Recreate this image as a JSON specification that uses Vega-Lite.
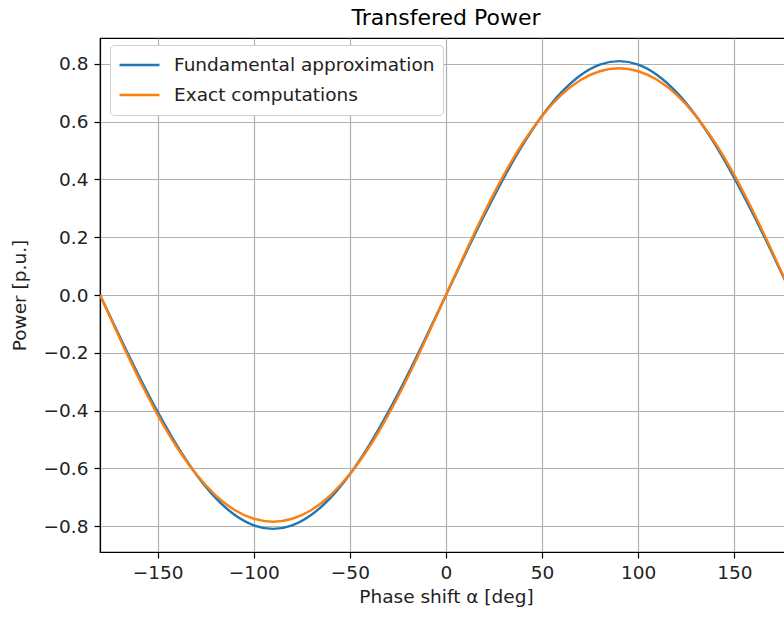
{
  "$schema": "https://vega.github.io/schema/vega-lite/v6.json",
  "autosize": "none",
  "padding": {"left": 100, "top": 38, "right": 0, "bottom": 67},
  "width": 692,
  "height": 514,
  "background": "white",
  "title": {"text": "Transfered Power", "font": "DejaVu Sans", "fontSize": 22, "fontWeight": "normal", "color": "#000000", "offset": 8},
  "config": {
    "view": {"stroke": "#000000", "strokeWidth": 1.2},
    "font": "DejaVu Sans",
    "axis": {
      "domainColor": "#000000", "domainWidth": 1.2,
      "tickColor": "#000000", "tickSize": 6, "tickWidth": 1.2,
      "gridColor": "#b0b0b0", "gridWidth": 1.2, "gridOpacity": 1,
      "labelFont": "DejaVu Sans", "labelFontSize": 18.5, "labelColor": "#222222",
      "titleFont": "DejaVu Sans", "titleFontSize": 18.5, "titleFontWeight": "normal", "titleColor": "#222222"
    }
  },
  "data": {"values": [
    {"a": -180, "p": 0, "s": "Fundamental approximation"},
    {"a": -170, "p": -0.1406, "s": "Fundamental approximation"},
    {"a": -160, "p": -0.2770, "s": "Fundamental approximation"},
    {"a": -150, "p": -0.4050, "s": "Fundamental approximation"},
    {"a": -140, "p": -0.5207, "s": "Fundamental approximation"},
    {"a": -130, "p": -0.6205, "s": "Fundamental approximation"},
    {"a": -120, "p": -0.7015, "s": "Fundamental approximation"},
    {"a": -110, "p": -0.7612, "s": "Fundamental approximation"},
    {"a": -100, "p": -0.7977, "s": "Fundamental approximation"},
    {"a": -90, "p": -0.8100, "s": "Fundamental approximation"},
    {"a": -80, "p": -0.7977, "s": "Fundamental approximation"},
    {"a": -70, "p": -0.7612, "s": "Fundamental approximation"},
    {"a": -60, "p": -0.7015, "s": "Fundamental approximation"},
    {"a": -50, "p": -0.6205, "s": "Fundamental approximation"},
    {"a": -40, "p": -0.5207, "s": "Fundamental approximation"},
    {"a": -30, "p": -0.4050, "s": "Fundamental approximation"},
    {"a": -20, "p": -0.2770, "s": "Fundamental approximation"},
    {"a": -10, "p": -0.1406, "s": "Fundamental approximation"},
    {"a": 0, "p": 0, "s": "Fundamental approximation"},
    {"a": 10, "p": 0.1406, "s": "Fundamental approximation"},
    {"a": 20, "p": 0.2770, "s": "Fundamental approximation"},
    {"a": 30, "p": 0.4050, "s": "Fundamental approximation"},
    {"a": 40, "p": 0.5207, "s": "Fundamental approximation"},
    {"a": 50, "p": 0.6205, "s": "Fundamental approximation"},
    {"a": 60, "p": 0.7015, "s": "Fundamental approximation"},
    {"a": 70, "p": 0.7612, "s": "Fundamental approximation"},
    {"a": 80, "p": 0.7977, "s": "Fundamental approximation"},
    {"a": 90, "p": 0.8100, "s": "Fundamental approximation"},
    {"a": 100, "p": 0.7977, "s": "Fundamental approximation"},
    {"a": 110, "p": 0.7612, "s": "Fundamental approximation"},
    {"a": 120, "p": 0.7015, "s": "Fundamental approximation"},
    {"a": 130, "p": 0.6205, "s": "Fundamental approximation"},
    {"a": 140, "p": 0.5207, "s": "Fundamental approximation"},
    {"a": 150, "p": 0.4050, "s": "Fundamental approximation"},
    {"a": 160, "p": 0.2770, "s": "Fundamental approximation"},
    {"a": 170, "p": 0.1406, "s": "Fundamental approximation"},
    {"a": 180, "p": 0, "s": "Fundamental approximation"},
    {"a": -180, "p": 0, "s": "Exact computations"},
    {"a": -170, "p": -0.1464, "s": "Exact computations"},
    {"a": -160, "p": -0.2866, "s": "Exact computations"},
    {"a": -150, "p": -0.4150, "s": "Exact computations"},
    {"a": -140, "p": -0.5272, "s": "Exact computations"},
    {"a": -130, "p": -0.6203, "s": "Exact computations"},
    {"a": -120, "p": -0.6928, "s": "Exact computations"},
    {"a": -110, "p": -0.7443, "s": "Exact computations"},
    {"a": -100, "p": -0.7748, "s": "Exact computations"},
    {"a": -90, "p": -0.7850, "s": "Exact computations"},
    {"a": -80, "p": -0.7748, "s": "Exact computations"},
    {"a": -70, "p": -0.7443, "s": "Exact computations"},
    {"a": -60, "p": -0.6928, "s": "Exact computations"},
    {"a": -50, "p": -0.6203, "s": "Exact computations"},
    {"a": -40, "p": -0.5272, "s": "Exact computations"},
    {"a": -30, "p": -0.4150, "s": "Exact computations"},
    {"a": -20, "p": -0.2866, "s": "Exact computations"},
    {"a": -10, "p": -0.1464, "s": "Exact computations"},
    {"a": 0, "p": 0, "s": "Exact computations"},
    {"a": 10, "p": 0.1464, "s": "Exact computations"},
    {"a": 20, "p": 0.2866, "s": "Exact computations"},
    {"a": 30, "p": 0.4150, "s": "Exact computations"},
    {"a": 40, "p": 0.5272, "s": "Exact computations"},
    {"a": 50, "p": 0.6203, "s": "Exact computations"},
    {"a": 60, "p": 0.6928, "s": "Exact computations"},
    {"a": 70, "p": 0.7443, "s": "Exact computations"},
    {"a": 80, "p": 0.7748, "s": "Exact computations"},
    {"a": 90, "p": 0.7850, "s": "Exact computations"},
    {"a": 100, "p": 0.7748, "s": "Exact computations"},
    {"a": 110, "p": 0.7443, "s": "Exact computations"},
    {"a": 120, "p": 0.6928, "s": "Exact computations"},
    {"a": 130, "p": 0.6203, "s": "Exact computations"},
    {"a": 140, "p": 0.5272, "s": "Exact computations"},
    {"a": 150, "p": 0.4150, "s": "Exact computations"},
    {"a": 160, "p": 0.2866, "s": "Exact computations"},
    {"a": 170, "p": 0.1464, "s": "Exact computations"},
    {"a": 180, "p": 0, "s": "Exact computations"}
  ]},
  "mark": {"type": "line", "interpolate": "monotone", "strokeWidth": 2.4, "clip": true},
  "encoding": {
    "x": {
      "field": "a", "type": "quantitative",
      "scale": {"domain": [-180, 180], "nice": false, "zero": false},
      "axis": {"title": "Phase shift α [deg]", "values": [-150, -100, -50, 0, 50, 100, 150], "labelPadding": 5, "titlePadding": 6, "format": "d"}
    },
    "y": {
      "field": "p", "type": "quantitative",
      "scale": {"domain": [-0.89, 0.89], "nice": false, "zero": false},
      "axis": {"title": "Power [p.u.]", "values": [-0.8, -0.6, -0.4, -0.2, 0, 0.2, 0.4, 0.6, 0.8], "format": ".1f", "labelPadding": 6, "titlePadding": 14}
    },
    "color": {
      "field": "s", "type": "nominal",
      "scale": {"domain": ["Fundamental approximation", "Exact computations"], "range": ["#1f77b4", "#ff7f0e"]},
      "legend": {
        "title": null, "orient": "none", "legendX": 10, "legendY": 7,
        "symbolType": "stroke", "symbolSize": 1600, "symbolStrokeWidth": 2.4,
        "labelFont": "DejaVu Sans", "labelFontSize": 18.5, "labelColor": "#222222", "labelOffset": 13, "labelLimit": 400,
        "clipHeight": 24, "rowPadding": 6, "padding": 8,
        "fillColor": "white", "strokeColor": "#d0d0d0", "cornerRadius": 4
      }
    },
    "order": {"field": "a", "type": "quantitative"}
  }
}
